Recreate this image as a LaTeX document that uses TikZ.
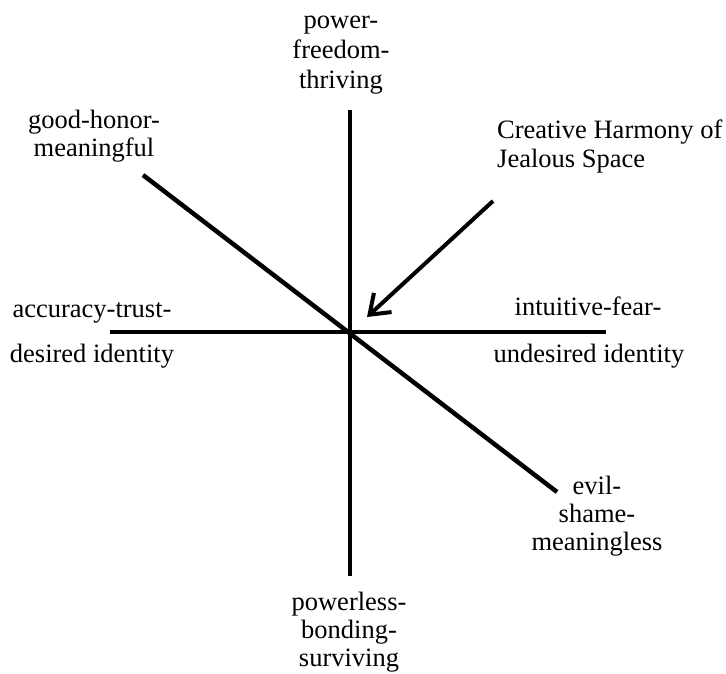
\documentclass[tikz,border=0pt]{standalone}
\usepackage{fontspec}
\setmainfont{Liberation Serif}
\usetikzlibrary{arrows.meta}
\begin{document}
\begin{tikzpicture}[x=1pt,y=-1pt,
  axis/.style={line width=4.5pt},
  lbl/.style={inner sep=0pt,align=center,anchor=base,font=\fontsize{26.5}{28}\selectfont},
  lbll/.style={inner sep=0pt,align=left,anchor=base west,font=\fontsize{26.5}{28.5}\selectfont}]
\useasboundingbox (0,0) rectangle (726,673);
\coordinate (O) at (350,332);
\coordinate (T) at (350,110);
\coordinate (B) at (350,576);
\coordinate (L) at (110,332);
\coordinate (R) at (606,332);
\coordinate (UL) at (143,175);
\coordinate (LR) at (557,492);
\coordinate (AT) at (493,201);
\coordinate (AH) at (367,317);
\draw[axis] (T) -- (B);
\draw[axis] (L) -- (R);
\draw[axis] (UL) -- (LR);
\draw[line width=4pt,-{Straight Barb[length=18pt,width=26pt]}] (AT) -- (AH);
\node[lbl,font=\fontsize{26.5}{30}\selectfont] (top) at (341,88) {power-\\freedom-\\thriving};
\node[lbl] (bot) at (349,666) {powerless-\\bonding-\\surviving};
\node[lbl] (l1) at (92,317) {accuracy-trust-};
\node[lbl] (l2) at (92,362) {desired identity};
\node[lbl] (r1) at (588,315) {intuitive-fear-};
\node[lbl] (r2) at (589,362) {undesired identity};
\node[lbl] (gh) at (94,156) {good-honor-\\meaningful};
\node[lbl] (ev) at (597,550) {evil-\\shame-\\meaningless};
\node[lbll] (ch) at (497,167) {Creative Harmony of\\Jealous Space};
\end{tikzpicture}
\end{document}
